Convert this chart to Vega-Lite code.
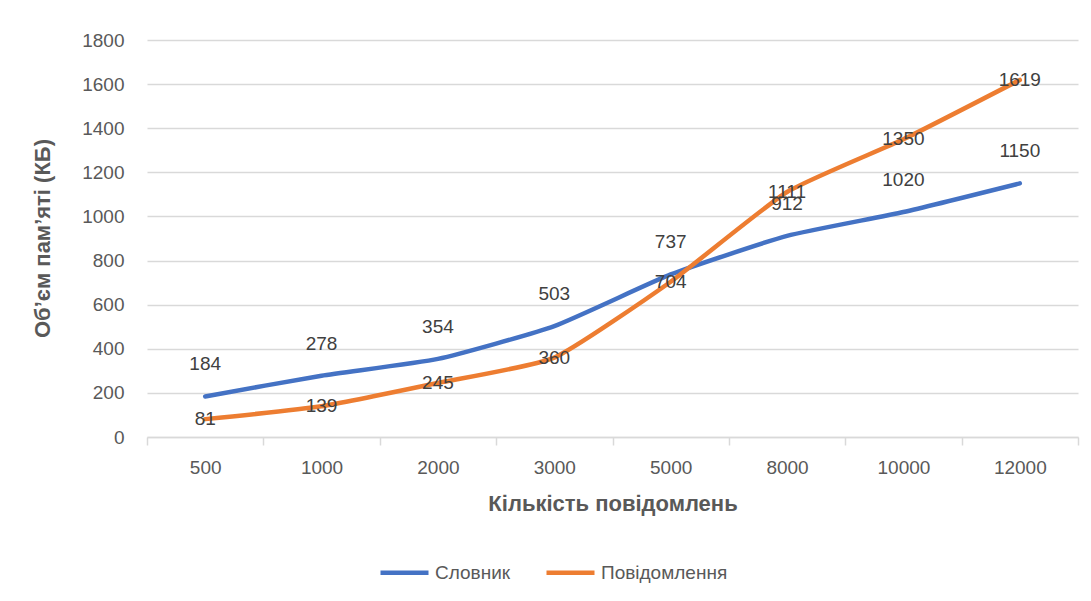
{
  "$schema": "https://vega.github.io/schema/vega-lite/v6.json",
  "width": 931,
  "height": 397,
  "autosize": "none",
  "padding": {"left": 147, "top": 40, "right": 13, "bottom": 164},
  "background": "white",
  "config": {
    "font": "Liberation Sans",
    "view": {"stroke": null}
  },
  "data": {
    "values": [
      {"n": 500, "series": "Словник", "v": 184},
      {"n": 1000, "series": "Словник", "v": 278},
      {"n": 2000, "series": "Словник", "v": 354},
      {"n": 3000, "series": "Словник", "v": 503},
      {"n": 5000, "series": "Словник", "v": 737},
      {"n": 8000, "series": "Словник", "v": 912},
      {"n": 10000, "series": "Словник", "v": 1020},
      {"n": 12000, "series": "Словник", "v": 1150},
      {"n": 500, "series": "Повідомлення", "v": 81},
      {"n": 1000, "series": "Повідомлення", "v": 139},
      {"n": 2000, "series": "Повідомлення", "v": 245},
      {"n": 3000, "series": "Повідомлення", "v": 360},
      {"n": 5000, "series": "Повідомлення", "v": 704},
      {"n": 8000, "series": "Повідомлення", "v": 1111},
      {"n": 10000, "series": "Повідомлення", "v": 1350},
      {"n": 12000, "series": "Повідомлення", "v": 1619}
    ]
  },
  "encoding": {
    "x": {
      "field": "n",
      "type": "ordinal",
      "scale": {"paddingInner": 0, "paddingOuter": 0},
      "axis": {
        "title": "Кількість повідомлень",
        "labelAngle": 0,
        "tickBand": "extent",
        "labelFontSize": 19,
        "labelColor": "#595959",
        "labelPadding": 13,
        "tickSize": 8,
        "tickColor": "#d9d9d9",
        "tickWidth": 1.5,
        "domainColor": "#d9d9d9",
        "domainWidth": 1.5,
        "grid": false,
        "titleFontSize": 22,
        "titleFontWeight": "bold",
        "titleColor": "#595959",
        "titleY": 66,
        "titleBaseline": "middle"
      }
    },
    "y": {
      "field": "v",
      "type": "quantitative",
      "scale": {"domain": [0, 1800], "nice": false},
      "axis": {
        "title": "Об’єм пам’яті (КБ)",
        "values": [0, 200, 400, 600, 800, 1000, 1200, 1400, 1600, 1800],
        "format": "d",
        "domain": false,
        "ticks": false,
        "labelPadding": 23,
        "labelFontSize": 19,
        "labelColor": "#595959",
        "gridColor": "#d9d9d9",
        "gridWidth": 1.5,
        "titleFontSize": 22,
        "titleFontWeight": "bold",
        "titleColor": "#595959",
        "titleX": -105,
        "titleY": 198,
        "titleBaseline": "middle"
      }
    }
  },
  "layer": [
    {
      "mark": {"type": "line", "interpolate": "cardinal", "tension": 0.5, "strokeWidth": 4.5, "strokeCap": "round"},
      "encoding": {
        "color": {
          "field": "series",
          "type": "nominal",
          "sort": ["Словник", "Повідомлення"],
          "scale": {"domain": ["Словник", "Повідомлення"], "range": ["#4472C4", "#ED7D31"]},
          "legend": {
            "title": null,
            "orient": "none",
            "direction": "horizontal",
            "legendX": 231,
            "legendY": 506,
            "symbolType": "stroke",
            "symbolSize": 2304,
            "symbolStrokeWidth": 4.5,
            "labelFontSize": 19,
            "labelColor": "#595959",
            "labelOffset": 4,
            "columnPadding": 26
          }
        }
      }
    },
    {
      "transform": [{"filter": "datum.series === 'Словник'"}],
      "mark": {"type": "text", "dy": -32, "fontSize": 19, "color": "#404040"},
      "encoding": {"text": {"field": "v", "type": "quantitative"}}
    },
    {
      "transform": [{"filter": "datum.series === 'Повідомлення'"}],
      "mark": {"type": "text", "dy": 0, "fontSize": 19, "color": "#404040"},
      "encoding": {"text": {"field": "v", "type": "quantitative"}}
    }
  ]
}
